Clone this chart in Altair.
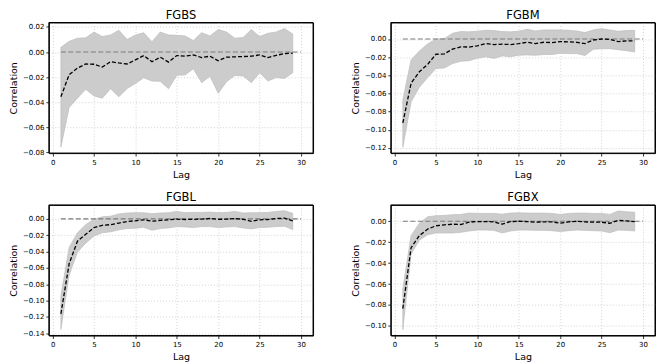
import altair as alt
import pandas as pd

lags = list(range(1, 30))

fgbs_mean = [-0.0356, -0.018, -0.0128, -0.0095, -0.0097, -0.012, -0.0077, -0.0087, -0.0095, -0.0062,
             -0.0028, -0.0077, -0.0041, -0.008, -0.0028, -0.0033, -0.0023, -0.0044, -0.0033, -0.0069,
             -0.0041, -0.0038, -0.0036, -0.0033, -0.0023, -0.0044, -0.0026, -0.0013, -0.0008]
fgbs_upper = [0.0038, 0.0085, 0.011, 0.0113, 0.0159, 0.0123, 0.0136, 0.0174, 0.010, 0.0136,
              0.0154, 0.0082, 0.0159, 0.0136, 0.0133, 0.0128, 0.0092, 0.0154, 0.0128, 0.0179,
              0.0159, 0.011, 0.0115, 0.0179, 0.0123, 0.0149, 0.0159, 0.0187, 0.0144]
fgbs_lower = [-0.0756, -0.0441, -0.0367, -0.0297, -0.0349, -0.0367, -0.0292, -0.0356, -0.029, -0.0251,
              -0.0205, -0.0231, -0.0233, -0.0292, -0.0185, -0.0182, -0.0133, -0.0244, -0.0192, -0.0328,
              -0.0236, -0.0187, -0.019, -0.0244, -0.0164, -0.0231, -0.0203, -0.021, -0.0164]

fgbm_mean = [-0.0925, -0.0486, -0.0361, -0.0279, -0.0168, -0.0164, -0.0111, -0.0086, -0.0089, -0.0075,
             -0.005, -0.0061, -0.0057, -0.0061, -0.005, -0.0036, -0.005, -0.0036, -0.0039, -0.0029,
             -0.0032, -0.0036, -0.005, -0.0011, 0.0, -0.0004, -0.0029, -0.0021, -0.0021]
fgbm_upper = [-0.0675, -0.0229, -0.0132, -0.0054, 0.0, 0.0004, 0.0064, 0.0082, 0.0079, 0.0086,
              0.0096, 0.0093, 0.0082, 0.0079, 0.0086, 0.0107, 0.0089, 0.010, 0.010, 0.010,
              0.0096, 0.0089, 0.0071, 0.010, 0.0114, 0.010, 0.0086, 0.0093, 0.0096]
fgbm_lower = [-0.1193, -0.0693, -0.0532, -0.0425, -0.0325, -0.0321, -0.0271, -0.0246, -0.0239, -0.0211,
              -0.0196, -0.0214, -0.0186, -0.0196, -0.0179, -0.0175, -0.0179, -0.0171, -0.0171, -0.0157,
              -0.0161, -0.0161, -0.0182, -0.0114, -0.0107, -0.0107, -0.0118, -0.0129, -0.0143]

fgbl_mean = [-0.1163, -0.0548, -0.0274, -0.019, -0.0107, -0.0079, -0.0071, -0.0052, -0.0032, -0.0024,
             -0.0012, -0.0028, -0.002, -0.0012, -0.0004, -0.0008, -0.0006, -0.0004, 0.0004, -0.0006,
             -0.0004, 0.0004, -0.0006, -0.003, -0.0012, -0.0008, 0.0004, 0.0008, -0.0024]
fgbl_upper = [-0.0944, -0.0349, -0.0171, -0.0071, -0.0004, 0.0024, 0.0032, 0.006, 0.0071, 0.0075,
              0.0075, 0.0063, 0.0071, 0.0075, 0.0091, 0.0075, 0.0079, 0.0079, 0.0083, 0.0075,
              0.0079, 0.0091, 0.0071, 0.0075, 0.0075, 0.0079, 0.0091, 0.0099, 0.0067]
fgbl_lower = [-0.1353, -0.0687, -0.0409, -0.0298, -0.021, -0.0171, -0.0159, -0.0135, -0.0119, -0.0115,
              -0.0103, -0.0139, -0.0119, -0.0111, -0.0095, -0.0099, -0.0107, -0.0095, -0.0095, -0.0107,
              -0.0099, -0.0095, -0.0111, -0.0123, -0.0107, -0.0103, -0.0095, -0.0091, -0.0131]

fgbx_mean = [-0.0835, -0.0252, -0.0137, -0.0075, -0.0043, -0.0034, -0.0028, -0.0031, -0.0009, -0.0003,
             -0.0003, -0.0006, -0.0028, -0.0003, 0.0, -0.0003, -0.0009, -0.0006, -0.0006, -0.0019,
             -0.0006, 0.0, -0.0006, -0.0009, -0.0009, -0.0019, 0.0009, 0.0003, -0.0003]
fgbx_upper = [-0.0646, -0.0137, -0.0019, 0.0043, 0.0053, 0.0056, 0.0062, 0.0065, 0.0078, 0.0075,
              0.0075, 0.0075, 0.0068, 0.0078, 0.0081, 0.0078, 0.0078, 0.0078, 0.0075, 0.0065,
              0.0075, 0.0078, 0.0078, 0.0075, 0.0075, 0.0065, 0.0099, 0.009, 0.0087]
fgbx_lower = [-0.1035, -0.0314, -0.018, -0.013, -0.0112, -0.0112, -0.0112, -0.0106, -0.0093, -0.0084,
              -0.0084, -0.0087, -0.0112, -0.0093, -0.0084, -0.0084, -0.0087, -0.0087, -0.009, -0.0099,
              -0.009, -0.0084, -0.0087, -0.009, -0.0093, -0.0109, -0.0084, -0.0087, -0.0093]

titles = ["FGBS", "FGBM", "FGBL", "FGBX"]
means = [fgbs_mean, fgbm_mean, fgbl_mean, fgbx_mean]
uppers = [fgbs_upper, fgbm_upper, fgbl_upper, fgbx_upper]
lowers = [fgbs_lower, fgbm_lower, fgbl_lower, fgbx_lower]
y_domains = [[-0.0804, 0.0235], [-0.1258, 0.0182], [-0.1428, 0.0170], [-0.1092, 0.0156]]
y_ticks = [[-0.08, -0.06, -0.04, -0.02, 0.0, 0.02],
           [-0.12, -0.10, -0.08, -0.06, -0.04, -0.02, 0.0],
           [-0.14, -0.12, -0.10, -0.08, -0.06, -0.04, -0.02, 0.0],
           [-0.10, -0.08, -0.06, -0.04, -0.02, 0.0]]
x_ticks = [0, 5, 10, 15, 20, 25, 30]
zero_line_x = [1, 30]

FONT = "DejaVu Sans"
W, H = 265, 131


def panel(i):
    df = pd.DataFrame({"lag": lags, "mean": means[i], "upper": uppers[i], "lower": lowers[i]})
    zl = pd.DataFrame({"lag": zero_line_x, "v": [0.0, 0.0]})
    xs = alt.Scale(domain=[-0.45, 31.45], nice=False, zero=False)
    ys = alt.Scale(domain=y_domains[i], nice=False, zero=False)
    xax = alt.Axis(values=x_ticks, title="Lag", format="d", labelOverlap=False)
    yax = alt.Axis(values=y_ticks[i], title="Correlation", format=".2f", labelOverlap=False)
    band = alt.Chart(df).mark_area(color="#cccccc", opacity=1, stroke="#bdbdbd", strokeWidth=0.7).encode(
        x=alt.X("lag:Q", scale=xs, axis=xax),
        y=alt.Y("lower:Q", scale=ys, axis=yax),
        y2="upper:Q",
    )
    zero = alt.Chart(zl).mark_line(color="#7a7a7a", strokeDash=[5, 2.5], strokeWidth=1.1).encode(
        x=alt.X("lag:Q", scale=xs, axis=xax),
        y=alt.Y("v:Q", scale=ys, axis=yax),
    )
    line = alt.Chart(df).mark_line(color="black", strokeDash=[4, 2], strokeWidth=1.3).encode(
        x=alt.X("lag:Q", scale=xs, axis=xax),
        y=alt.Y("mean:Q", scale=ys, axis=yax),
    )
    frame = alt.Chart(pd.DataFrame({"f": [0]})).mark_rect(
        fill=None, fillOpacity=0, stroke="black", strokeWidth=1
    ).encode(
        x=alt.value(0), x2=alt.value(W), y=alt.value(0), y2=alt.value(H)
    )
    return alt.layer(band, zero, line, frame).properties(
        width=W, height=H,
        title=alt.TitleParams(titles[i], fontSize=11.5, font=FONT, fontWeight="normal",
                              anchor="middle", offset=1, color="black"),
    )


row1 = alt.hconcat(panel(0), panel(1), spacing=36)
row2 = alt.hconcat(panel(2), panel(3), spacing=36)
chart = alt.vconcat(row1, row2, spacing=12).properties(padding=0).configure_axis(
    labelFont=FONT, labelFontSize=7, labelColor="black",
    titleFont=FONT, titleFontSize=9.5, titleFontWeight="normal", titleColor="black",
    titlePadding=4, labelPadding=2, labelOverlap=False,
    tickColor="black", tickSize=3, tickWidth=0.8,
    domain=False,
    gridColor="#b5b5b5", gridDash=[1, 2], gridWidth=0.6,
).configure_view(stroke="black", strokeWidth=1)

chart.save("out.html", embed_options={"renderer": "svg", "actions": False})
